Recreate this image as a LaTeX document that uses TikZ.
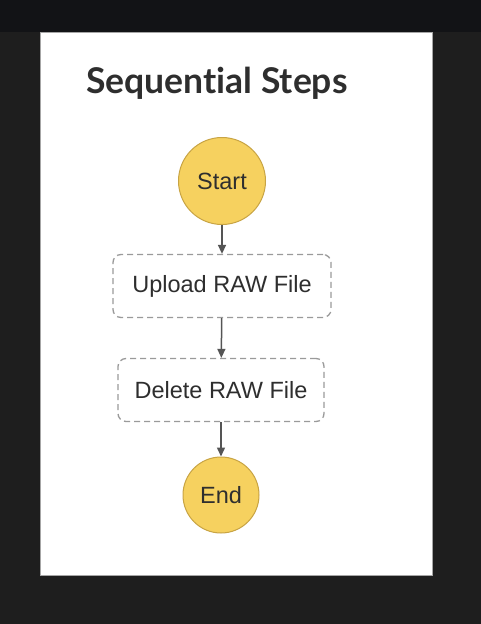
\documentclass[tikz,border=0pt]{standalone}
\usepackage{fontspec}
\setmainfont{Liberation Sans}
\newfontfamily\titlefont[Ligatures=NoCommon]{Lato}
\usetikzlibrary{arrows.meta}
\definecolor{bgdark}{HTML}{1E1E1E}
\definecolor{bgtop}{HTML}{121316}
\definecolor{txt}{HTML}{2E2E2E}
\definecolor{stfill}{HTML}{F6D15F}
\definecolor{stdraw}{HTML}{C8A444}
\definecolor{dashgray}{HTML}{9A9A9A}
\definecolor{arrowgray}{HTML}{555555}
\tikzset{
  terminal/.style={circle, fill=stfill, draw=stdraw, line width=1pt, minimum size=#1, inner sep=0pt, text=txt, font=\fontsize{23.5}{26}\selectfont},
  stepbox/.style={rectangle, rounded corners=8pt, draw=dashgray, dash pattern=on 6pt off 4pt, line width=1.3pt, fill=white, minimum height=63pt, inner sep=0pt, text=txt, font=\fontsize{23.5}{26}\selectfont},
  flow/.style={draw=arrowgray, line width=1.5pt, -{Triangle[length=9pt,width=8pt]}}
}
\begin{document}
\begin{tikzpicture}[x=1pt,y=-1pt]
\useasboundingbox (0,0) rectangle (481,624);
\fill[bgdark] (0,0) rectangle (481,624);
\fill[bgtop] (0,0) rectangle (481,32);
\fill[white, draw=gray!70, line width=1pt] (40,32) rectangle (432,575);
\node[anchor=base west, inner sep=0pt, text=txt, font=\titlefont\bfseries\fontsize{35.5}{38}\selectfont] (title) at (86,93) {Sequential Steps};
\node[terminal=87pt] (start) at (222,181) {Start};
\node[stepbox, minimum width=218pt] (upload) at (222,286) {Upload RAW File};
\node[stepbox, minimum width=206pt] (delete) at (221,390) {Delete RAW File};
\node[terminal=76pt] (end) at (221,495) {End};
\draw[flow] (start) -- (upload);
\draw[flow] (upload) -- (delete);
\draw[flow] (delete) -- (end);
\end{tikzpicture}
\end{document}
